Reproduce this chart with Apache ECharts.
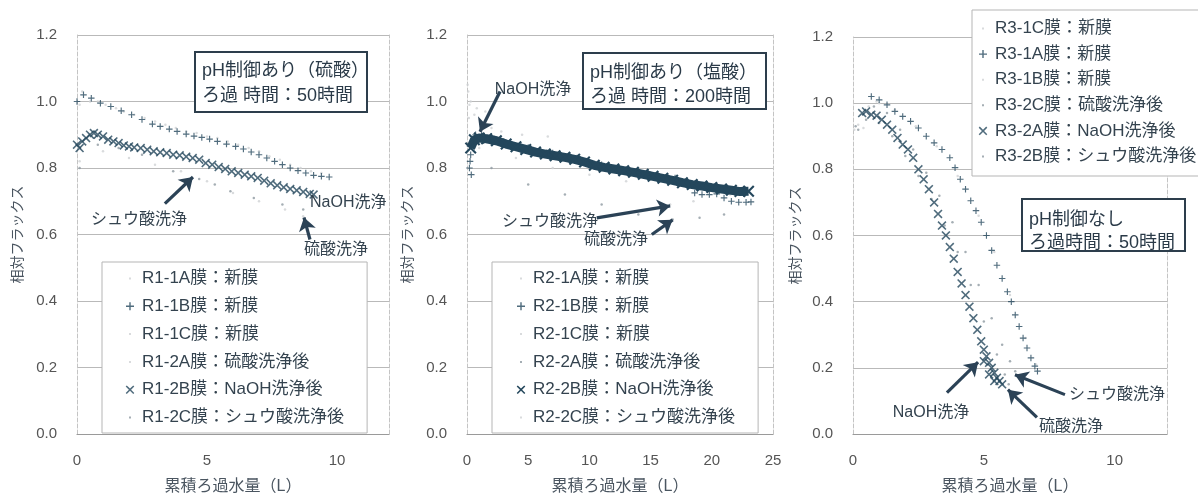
<!DOCTYPE html>
<html>
<head>
<meta charset="utf-8">
<script src="https://cdn.jsdelivr.net/npm/echarts@6/dist/echarts.min.js"></script>
<style>
  html, body { margin: 0; padding: 0; background: #fff; }
  #chart { width: 1198px; height: 500px; }
</style>
</head>
<body>
<div id="chart"></div>
<script>
// ---- Panel 1: pH制御あり（硫酸） ----
const r1_1A = [[0.1,0.99],[0.5,1.0],[1.1,0.99],[1.8,0.97],[2.6,0.95],[3.4,0.93],[4.2,0.91],[5.0,0.895],[5.8,0.88],[6.6,0.86],[7.4,0.835],[8.2,0.81],[9.0,0.79]];
const r1_1B = [[0,1.0],[0.25,1.02],[0.55,1.01],[0.9,0.995],[1.3,0.985],[1.7,0.972],[2.1,0.96],[2.5,0.946],[2.9,0.932],[3.2,0.925],[3.55,0.917],[3.85,0.91],[4.2,0.902],[4.5,0.896],[4.8,0.892],[5.1,0.887],[5.4,0.88],[5.75,0.872],[6.1,0.865],[6.4,0.857],[6.7,0.848],[7.0,0.84],[7.3,0.83],[7.6,0.82],[7.9,0.81],[8.2,0.8],[8.5,0.792],[8.8,0.785],[9.1,0.778],[9.4,0.775],[9.7,0.773]];
const r1_1C = [[0.2,1.03],[0.8,1.0],[1.5,0.98],[2.2,0.96],[3.0,0.94],[3.8,0.92],[4.6,0.905],[5.4,0.89],[6.2,0.87],[7.0,0.85],[7.8,0.825],[8.6,0.8],[9.4,0.785]];
const r1_2A = [[0.1,0.82],[1.0,0.85],[2.0,0.83],[3.0,0.81],[4.0,0.79],[5.0,0.76],[6.0,0.725],[7.0,0.7],[8.0,0.675],[8.7,0.655]];
const r1_2B = [[0.0,0.87],[0.1,0.86],[0.2,0.88],[0.35,0.89],[0.5,0.9],[0.65,0.905],[0.8,0.9],[1.0,0.895],[1.2,0.885],[1.4,0.88],[1.6,0.875],[1.8,0.868],[2.0,0.865],[2.2,0.862],[2.45,0.86],[2.7,0.855],[2.95,0.85],[3.2,0.847],[3.45,0.845],[3.7,0.84],[3.95,0.838],[4.2,0.834],[4.45,0.83],[4.7,0.825],[4.95,0.815],[5.2,0.81],[5.45,0.803],[5.7,0.797],[5.95,0.79],[6.2,0.785],[6.45,0.78],[6.7,0.775],[6.95,0.77],[7.2,0.762],[7.45,0.754],[7.7,0.748],[7.95,0.742],[8.2,0.737],[8.45,0.733],[8.7,0.728],[8.95,0.722],[9.1,0.72]];
const r1_2C = [[0.1,0.8],[0.8,0.87],[1.6,0.86],[2.5,0.84],[3.7,0.79],[4.7,0.767],[5.3,0.75],[5.9,0.73],[6.8,0.71],[7.9,0.69],[8.7,0.675]];

// ---- Panel 2: pH制御あり（塩酸） ----
const r2_1A = [[0.1,1.03],[0.2,0.99],[0.15,0.95],[0.8,0.98],[1.5,0.97],[2.8,0.91],[4.5,0.9],[6.6,0.895]];
const r2_1B = [[0.2,0.8],[0.25,0.82],[0.3,0.84],[0.35,0.78],[0.45,0.87],[0.7,0.9],[1.2,0.9],[2.0,0.895],[3.0,0.88],[5.0,0.862],[7.0,0.845],[9.0,0.83],[11.0,0.81],[13.0,0.795],[15.0,0.78],[17.0,0.77],[18.6,0.725],[19.2,0.72],[19.8,0.72],[20.4,0.722],[21.0,0.71],[21.6,0.7],[22.2,0.697],[22.8,0.697],[23.2,0.698]];
const r2_1C = [[0.05,1.05],[0.3,1.0],[0.6,0.96],[1.2,0.93],[2.0,0.92]];
const r2_2A = [[2,0.8],[5,0.75],[8,0.72],[11,0.69],[14,0.66],[16.8,0.645],[19,0.65],[21,0.66]];
const r2_2B = [[0.3,0.86],[0.6,0.885],[1.0,0.89],[1.6,0.888],[2.4,0.882],[3.2,0.872],[4.0,0.864],[4.8,0.856],[5.6,0.848],[6.4,0.842],[7.2,0.837],[8.0,0.832],[8.8,0.826],[9.6,0.818],[10.4,0.808],[11.2,0.802],[12.0,0.797],[12.8,0.792],[13.6,0.787],[14.4,0.781],[15.2,0.775],[16.0,0.769],[16.8,0.763],[17.6,0.756],[18.4,0.75],[19.2,0.746],[20.0,0.741],[20.8,0.737],[21.6,0.733],[22.3,0.729],[23.0,0.73]];
const r2_2C = [[1,0.86],[4,0.83],[7,0.8],[10,0.78],[13,0.76],[16.6,0.69],[18.5,0.7],[21.5,0.72]];

// ---- Panel 3: pH制御なし ----
const r3_1C = [[0.05,0.92],[0.2,0.935],[0.4,0.925],[0.6,0.99],[0.9,1.005]];
const r3_1A = [[0.7,1.02],[1.0,1.01],[1.3,0.995],[1.6,0.975],[1.9,0.96],[2.2,0.945],[2.5,0.925],[2.8,0.9],[3.1,0.88],[3.4,0.86],[3.7,0.835],[3.9,0.805],[4.1,0.77],[4.3,0.74],[4.5,0.705],[4.7,0.675],[4.9,0.64],[5.1,0.6],[5.3,0.555],[5.5,0.51],[5.7,0.47],[5.9,0.43],[6.05,0.4],[6.2,0.36],[6.35,0.325],[6.5,0.29],[6.65,0.26],[6.8,0.23],[6.95,0.205],[7.05,0.19]];
const r3_1B = [[1.0,1.0],[1.6,0.98],[2.4,0.93],[3.2,0.87],[4.0,0.78],[4.8,0.66],[5.4,0.55],[6.0,0.42],[6.6,0.29],[7.0,0.21]];
const r3_2C = [[0.1,0.93],[0.5,0.95],[1.0,0.94],[1.5,0.9],[2.0,0.84],[2.5,0.78],[3.0,0.71],[3.5,0.63],[4.0,0.55],[4.5,0.45],[5.0,0.34],[5.5,0.24],[5.8,0.18],[5.95,0.15]];
const r3_2A = [[0.35,0.97],[0.5,0.975],[0.7,0.965],[0.9,0.962],[1.1,0.95],[1.3,0.935],[1.5,0.92],[1.7,0.895],[1.9,0.875],[2.1,0.86],[2.3,0.835],[2.5,0.8],[2.7,0.77],[2.9,0.74],[3.1,0.7],[3.25,0.665],[3.4,0.63],[3.55,0.6],[3.7,0.565],[3.85,0.53],[4.0,0.49],[4.15,0.455],[4.3,0.42],[4.45,0.385],[4.6,0.35],[4.75,0.315],[4.9,0.28],[5.0,0.255],[5.1,0.235],[5.2,0.215],[5.3,0.2],[5.4,0.185],[5.5,0.17],[5.6,0.16],[5.7,0.15],[5.2,0.18],[5.4,0.16],[5.0,0.22]];
const r3_2B = [[0.2,0.92],[0.8,0.99],[1.3,0.97],[1.8,0.92],[2.3,0.86],[2.8,0.79],[3.3,0.72],[3.8,0.64],[4.3,0.55],[4.8,0.45],[5.3,0.35],[5.7,0.27],[6.0,0.22],[6.2,0.19]];

// axis settings per panel
const xMaxes = [12, 25, 12];
const xInterval = 5;
const yMax = 1.2;
const yInterval = 0.2;
const xName = '累積ろ過水量（L）';
const yName = '相対フラックス';

const FONT = "'Liberation Sans', 'Noto Sans CJK JP', sans-serif";
const DARK = '#24475c';
const MID = '#8f9aa1';
const FAINT = '#cfd2d4';
const TEXT = '#34434f';

const PLUS_SHAPE = 'M3.3,0H4.7V3.3H8V4.7H4.7V8H3.3V4.7H0V3.3H3.3Z';
const CROSS_SHAPE = 'M1,0L4,3L7,0L8,1L5,4L8,7L7,8L4,5L1,8L0,7L3,4L0,1Z';
const PLUS = 'path://' + PLUS_SHAPE;
const CROSS = 'path://' + CROSS_SHAPE;
// legend icons: the leading move-to points widen the box so the shape stays small
const PLUS_ICON = 'path://M-3,-3M11,11' + PLUS_SHAPE;
const CROSS_ICON = 'path://M-2.5,-2.5M10.5,10.5' + CROSS_SHAPE;
const DOT_ICON = 'path://M0,0M14,14M6,6h2v2h-2z';

// series look: [symbol, size, colour, legend icon]
const looks = {
  dot:   ['circle', 2.5, MID,   DOT_ICON],
  faint: ['circle', 2.5, FAINT, DOT_ICON],
  plus:  [PLUS, 6.5, DARK, PLUS_ICON],
  cross: [CROSS, 9, DARK, CROSS_ICON]
};

const panels = [
  [
    ['R1-1A膜：新膜', r1_1A, 'faint'],
    ['R1-1B膜：新膜', r1_1B, 'plus'],
    ['R1-1C膜：新膜', r1_1C, 'faint'],
    ['R1-2A膜：硫酸洗浄後', r1_2A, 'faint'],
    ['R1-2B膜：NaOH洗浄後', r1_2B, 'cross'],
    ['R1-2C膜：シュウ酸洗浄後', r1_2C, 'dot']
  ],
  [
    ['R2-1A膜：新膜', r2_1A, 'faint'],
    ['R2-1B膜：新膜', r2_1B, 'plus'],
    ['R2-1C膜：新膜', r2_1C, 'faint'],
    ['R2-2A膜：硫酸洗浄後', r2_2A, 'dot'],
    ['R2-2B膜：NaOH洗浄後', r2_2B, 'cross'],
    ['R2-2C膜：シュウ酸洗浄後', r2_2C, 'faint']
  ],
  [
    ['R3-1C膜：新膜', r3_1C, 'faint'],
    ['R3-1A膜：新膜', r3_1A, 'plus'],
    ['R3-1B膜：新膜', r3_1B, 'faint'],
    ['R3-2C膜：硫酸洗浄後', r3_2C, 'dot'],
    ['R3-2A膜：NaOH洗浄後', r3_2A, 'cross'],
    ['R3-2B膜：シュウ酸洗浄後', r3_2B, 'dot']
  ]
];

// arrow annotations in data coordinates: [from, to]
const arrows = [
  [[[3.38,0.693],[4.46,0.773]], [[8.96,0.585],[8.73,0.651]]],
  [[[2.7,1.03],[1.06,0.909]], [[10.6,0.65],[16.6,0.686]], [[15.1,0.6],[16.8,0.644]]],
  [[[3.59,0.125],[4.78,0.217]], [[7.03,0.05],[5.92,0.134]], [[8.1,0.119],[6.19,0.179]]]
];

const grids = [
  { left: 77, top: 35, width: 312, height: 402 },
  { left: 467, top: 35, width: 306, height: 404 },
  { left: 853, top: 37, width: 314, height: 403 }
];

const xAxes = grids.map((g, i) => ({
  type: 'value', gridIndex: i, min: 0, max: xMaxes[i], interval: xInterval,
  name: xName, nameLocation: 'middle', nameGap: 45,
  nameTextStyle: { fontSize: 16, color: '#4a5560', fontFamily: FONT },
  axisLine: { show: true, onZero: false, lineStyle: { color: '#9a9a9a', width: 1.2 } },
  axisTick: { show: false },
  axisLabel: { fontSize: 15, color: '#555', margin: 19, fontFamily: FONT, showMaxLabel: i === 1 },
  splitLine: { show: false }
}));

const yAxes = grids.map((g, i) => ({
  type: 'value', gridIndex: i, min: 0, max: yMax, interval: yInterval,
  name: yName, nameLocation: 'middle', nameGap: i === 2 ? 50 : 52,
  nameTextStyle: { fontSize: 14, color: '#4a5560', fontFamily: FONT },
  axisLine: { show: true, lineStyle: { color: '#c4c4c4', type: 'dashed' } },
  axisTick: { show: false },
  axisLabel: { fontSize: 15, color: '#555', margin: 20, fontFamily: FONT, formatter: v => v.toFixed(1) },
  splitLine: { show: true, lineStyle: { color: '#b9b9b9', width: 1 } }
})).concat(grids.map((g, i) => ({
  type: 'value', gridIndex: i, min: 0, max: yMax, interval: yInterval, position: 'right',
  axisLine: { show: true, lineStyle: { color: '#c4c4c4', type: 'dashed' } },
  axisTick: { show: false }, axisLabel: { show: false }, splitLine: { show: false }
})));

const series = [];
panels.forEach((list, gi) => {
  list.forEach(([name, data, look]) => {
    const [sym, size, color] = looks[look];
    const s = {
      type: 'scatter', name, data, xAxisIndex: gi, yAxisIndex: gi,
      symbol: sym, symbolSize: size, itemStyle: { color },
      z: look === 'faint' ? 1 : (look === 'dot' ? 2 : 3),
      silent: true, animation: false
    };
    if (gi === 1 && look === 'cross') {
      s.type = 'line';
      s.showSymbol = true;
      s.symbolSize = 12;
      s.lineStyle = { width: 9, color: DARK };
    }
    series.push(s);
  });
  // arrows drawn as mark lines on an empty helper series
  series.push({
    type: 'scatter', data: [], xAxisIndex: gi, yAxisIndex: gi, silent: true, animation: false,
    markLine: {
      silent: true, animation: false,
      symbol: ['none', 'arrow'], symbolSize: 13,
      label: { show: false },
      lineStyle: { type: 'solid', width: 3.2, color: '#2b4256' },
      emphasis: { disabled: true },
      data: arrows[gi].map(([a, b]) => [{ coord: a }, { coord: b }])
    }
  });
});

const legendPos = [
  { left: 102, top: 262, padding: [8, 23, 7, 21], itemGap: 10.8 },
  { left: 492, top: 262, padding: [8, 23, 7, 22], itemGap: 10.8 },
  { left: 972, top: 10, padding: [10, 4, 11, 4], itemGap: 8.6 }
];

const legend = panels.map((list, gi) => Object.assign({
  orient: 'vertical', selectedMode: false,
  itemWidth: 14, itemHeight: 14,
  backgroundColor: '#fff', borderColor: '#b5b5b5', borderWidth: 1,
  textStyle: { fontSize: 17, lineHeight: 17, color: TEXT, fontFamily: FONT },
  data: list.map(([name, , look]) => ({ name, icon: looks[look][3], itemStyle: { color: looks[look][2] } }))
}, legendPos[gi]));

// boxed captions and arrow labels
function box(x, y, w, h, lines, ly) {
  const els = [{ type: 'rect', shape: { x, y, width: w, height: h }, style: { fill: '#fff', stroke: '#2d3e4c', lineWidth: 2 }, z: 10 }];
  lines.forEach((t, k) => els.push({
    type: 'text', x: x + 7, y: ly[k], z: 11,
    style: { text: t, fontSize: 18, fontFamily: FONT, fill: '#2a3a48', align: 'left', verticalAlign: 'middle' }
  }));
  return els;
}
function label(text, x, y, align) {
  return { type: 'text', x, y, z: 11, style: { text, fontSize: 16, fontFamily: FONT, fill: TEXT, align: align || 'center', verticalAlign: 'middle' } };
}

const graphic = [].concat(
  box(195, 52, 172, 60, ['pH制御あり（硫酸）', 'ろ過 時間：50時間'], [71, 96]),
  box(583, 53, 183, 56, ['pH制御あり（塩酸）', 'ろ過 時間：200時間'], [73, 97]),
  box(1022, 199, 163, 52, ['pH制御なし', 'ろ過時間：50時間'], [220, 243]),
  [
    label('シュウ酸洗浄', 139, 220),
    label('NaOH洗浄', 310, 203, 'left'),
    label('硫酸洗浄', 336, 250),
    label('NaOH洗浄', 533, 90),
    label('シュウ酸洗浄', 550, 222),
    label('硫酸洗浄', 616, 240),
    label('NaOH洗浄', 931, 413),
    label('硫酸洗浄', 1071, 427),
    label('シュウ酸洗浄', 1117, 395)
  ]
);

const chart = echarts.init(document.getElementById('chart'), null, { renderer: 'canvas' });
chart.setOption({
  backgroundColor: '#fff',
  animation: false,
  grid: grids,
  xAxis: xAxes,
  yAxis: yAxes,
  legend,
  series,
  graphic
});
</script>
</body>
</html>
